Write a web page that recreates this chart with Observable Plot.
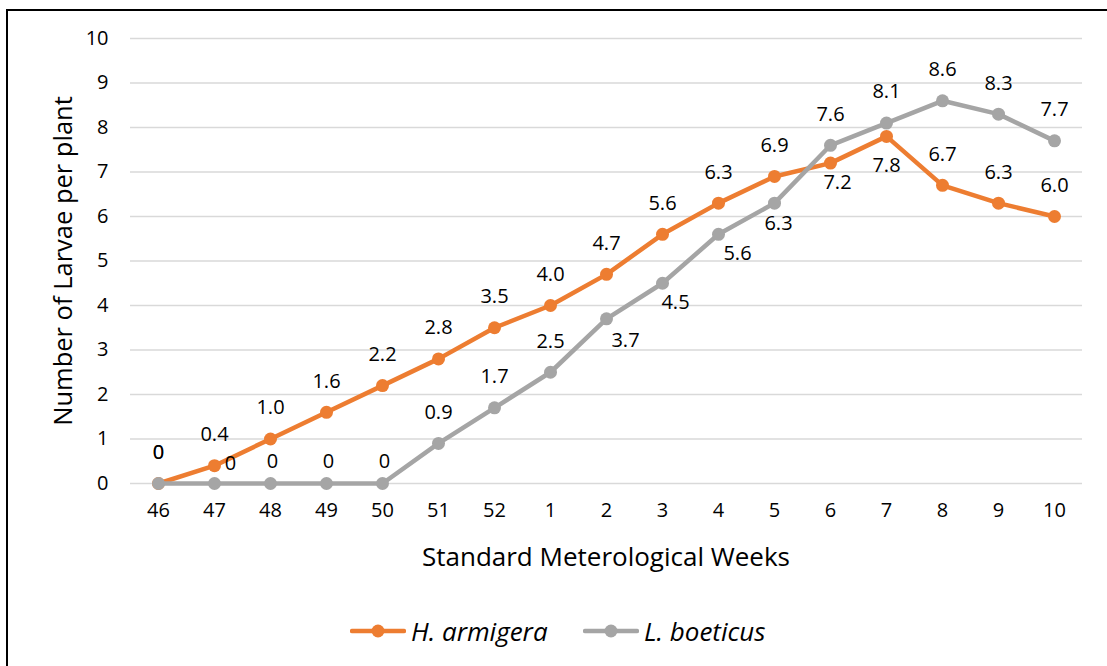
<!DOCTYPE html>
<html>
<head>
<meta charset="utf-8">
<script src="https://cdn.jsdelivr.net/npm/d3@7"></script>
<script src="https://cdn.jsdelivr.net/npm/@observablehq/plot@0.6"></script>
<style>
  html, body { margin: 0; padding: 0; background: #fff; }
  body { width: 1107px; height: 666px; position: relative; overflow: hidden; font-family: "Open Sans", sans-serif; }
  #frame { position: absolute; left: 6px; top: 9px; width: 1200px; height: 800px; border-left: 2px solid #000; border-top: 2px solid #000; }
  #chart { position: absolute; left: 0; top: 0; }
  .title { position: absolute; color: #000; white-space: nowrap; }
  #ytitle { left: 62px; top: 261px; transform: translate(-50%, -50%) rotate(-90deg); font-size: 25.5px; }
  #xtitle { left: 606px; top: 556px; transform: translate(-50%, -50%); font-size: 26px; }
  #legend { position: absolute; left: 0; top: 616px; width: 1107px; height: 30px; }
  .leg { position: absolute; top: 0; display: flex; align-items: center; height: 30px; font-size: 26px; font-style: italic; }
  .leg svg { margin-right: 5px; }
</style>
</head>
<body>
<div id="frame"></div>
<div id="chart"></div>
<div class="title" id="ytitle">Number of Larvae per plant</div>
<div class="title" id="xtitle">Standard Meterological Weeks</div>
<div id="legend"></div>
<script>
const weeks = ["46","47","48","49","50","51","52","1","2","3","4","5","6","7","8","9","10"];
const seriesNames = ["H. armigera", "L. boeticus"];
const hArmigera = [0, 0.4, 1.0, 1.6, 2.2, 2.8, 3.5, 4.0, 4.7, 5.6, 6.3, 6.9, 7.2, 7.8, 6.7, 6.3, 6.0];
const lBoeticus = [0, 0, 0, 0, 0, 0.9, 1.7, 2.5, 3.7, 4.5, 5.6, 6.3, 7.6, 8.1, 8.6, 8.3, 7.7];
const yTicks = [0,1,2,3,4,5,6,7,8,9,10];
const colors = ["#ED7D31", "#A5A5A5"];

const rows = [];
[hArmigera, lBoeticus].forEach((vals, s) => {
  vals.forEach((v, i) => rows.push({week: weeks[i], value: v, series: seriesNames[s], s, i}));
});

// label placement (style, mimicking the spreadsheet's placement)
function offset(r) {
  if (r.s === 0) {
    if (r.week === "6") return [7, 19];
    if (r.week === "7") return [0, 29];
    return [0, -31];
  } else {
    if (["47"].includes(r.week)) return [16, -20];
    if (["48","49","50"].includes(r.week)) return [2, -22];
    if (r.week === "2") return [19, 22];
    if (r.week === "3") return [13, 19];
    if (r.week === "4") return [19, 19];
    if (r.week === "5") return [4, 20];
    return [0, -31];
  }
}
const fmt = v => v === 0 ? "0" : v.toFixed(1);
const labels = rows.map(r => { const [dx, dy] = offset(r); return {...r, dx, dy, text: fmt(r.value)}; });
const groups = d3.groups(labels, d => d.dx + "," + d.dy);

const FS = 20;
const marks = [
  Plot.ruleY(yTicks, {stroke: "#d9d9d9", strokeWidth: 1.5}),
  // tick labels drawn through the scales
  Plot.text(yTicks, {y: d => d, text: d => String(d), frameAnchor: "left", textAnchor: "end", dx: -22, fontSize: FS, fill: "#000"}),
  Plot.text(weeks, {x: d => d, text: d => d, frameAnchor: "bottom", textAnchor: "middle", dy: 33, fontSize: FS, fill: "#000"}),
];
seriesNames.forEach((name, s) => {
  const d = rows.filter(r => r.s === s);
  marks.push(Plot.line(d, {x: "week", y: "value", stroke: colors[s], strokeWidth: 4.5, strokeLinejoin: "round", strokeLinecap: "round"}));
  marks.push(Plot.dot(d, {x: "week", y: "value", fill: colors[s], r: 6.5, stroke: "none"}));
});
for (const [key, g] of groups) {
  marks.push(Plot.text(g, {x: "week", y: "value", text: "text", dx: g[0].dx, dy: g[0].dy, fill: "#000", fontSize: FS, textAnchor: "middle"}));
}

const chart = Plot.plot({
  width: 1107,
  height: 600,
  marginLeft: 130,
  marginRight: 25,
  marginTop: 38,
  marginBottom: 117,
  style: {fontFamily: "'Open Sans', sans-serif", fontSize: "20px", color: "#000", background: "transparent", overflow: "visible"},
  x: {type: "point", domain: weeks, padding: 0.5, axis: null},
  y: {domain: [0, 10], axis: null},
  marks
});
document.getElementById("chart").appendChild(chart);

// legend
const legend = document.getElementById("legend");
const legX = [350, 583];
seriesNames.forEach((name, s) => {
  const item = document.createElement("div");
  item.className = "leg";
  item.style.left = legX[s] + "px";
  item.innerHTML = `<svg width="56" height="20"><line x1="2" y1="10" x2="54" y2="10" stroke="${colors[s]}" stroke-width="4.5" stroke-linecap="round"/><circle cx="28" cy="10" r="6.5" fill="${colors[s]}"/></svg><span>${name}</span>`;
  legend.appendChild(item);
});
</script>
</body>
</html>
